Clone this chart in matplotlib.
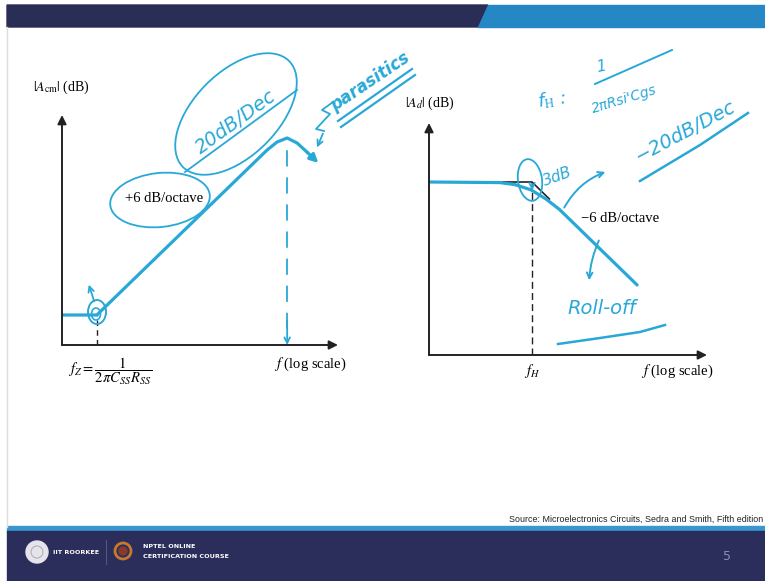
import matplotlib.pyplot as plt
from matplotlib.patches import Ellipse, Polygon, Rectangle, Circle

plt.rcParams['font.family'] = ['Liberation Serif', 'DejaVu Serif']
plt.rcParams['mathtext.fontset'] = 'stix'

W, H = 765, 581
ink = '#29a8d8'
hand = dict(family='DejaVu Sans', style='italic', color=ink)

# common-mode gain |Acm| in dB, frequency normalised to fz = 1
cm_freq = [0.39, 1.0, 100, 131, 172, 225, 295, 400]
cm_gain = [7.5, 7.5, 48.75, 50.75, 51.75, 50.5, 48.2, 45.5]
cm_asym_freq = [0.39, 1.0, 1.6]
cm_asym_gain = [7.5, 7.5, 11.6]
fz = 1.0
f_par = 172
cm_flim = (0.39, 680)
cm_glim = (0, 57.5)

# differential gain |Ad| in dB, frequency normalised to fH = 1
d_freq = [0.0616, 0.42, 0.63, 0.97, 1.46, 2.1, 17.2]
d_gain = [43.25, 43.1, 42.6, 41.3, 39.0, 36.4, 17.5]
d_asym_freq = [0.45, 1.0, 1.6]
d_asym_gain = [43.25, 43.25, 39.0]
fH = 1.0
d_flim = (0.0616, 114)
d_glim = (0, 58)


def rect(x0, y0, x1, y1):
    return [x0 / W, 1 - y1 / H, (x1 - x0) / W, (y1 - y0) / H]


fig = plt.figure(figsize=(W / 100, H / 100), dpi=100)

# slide background: banner, footer
bg = fig.add_axes([0, 0, 1, 1], zorder=0)
bg.set_xlim(0, W)
bg.set_ylim(H, 0)
bg.axis('off')
bg.add_patch(Polygon([(7, 5), (488, 5), (478, 27), (7, 27)], color='#2a2d55'))
bg.add_patch(Polygon([(488, 5), (765, 5), (765, 27), (478, 27)], color='#2587c3'))
bg.plot([7, 7], [27, 527], color='#dddddd', lw=1)
bg.add_patch(Rectangle((7, 526), 758, 6, color='#3a96cf'))
bg.add_patch(Rectangle((7, 531), 758, 50, color='#2b2e5b'))
bg.text(763, 519, 'Source: Microelectronics Circuits, Sedra and Smith, Fifth edition',
        family=['Liberation Sans', 'DejaVu Sans'], fontsize=6.4,
        color='#222222', va='center', ha='right')
bg.add_patch(Circle((37, 552), 11, color='#e4e4ea'))
bg.add_patch(Circle((37, 552), 6, fill=False, ec='#b0b0b8', lw=0.8))
bg.text(53, 552, 'IIT ROORKEE', family='DejaVu Sans', fontsize=4.6,
        weight='bold', color='white', va='center')
bg.plot([106, 106], [540, 564], color='#55587e', lw=0.8)
bg.add_patch(Circle((123, 551), 8, fill=False, ec='#c8782a', lw=2))
bg.add_patch(Circle((123, 551), 4, color='#8a3a2a'))
bg.text(143, 547, 'NPTEL ONLINE', family='DejaVu Sans', fontsize=4.6,
        weight='bold', color='white', va='center')
bg.text(143, 556, 'CERTIFICATION COURSE', family='DejaVu Sans', fontsize=4.6,
        weight='bold', color='white', va='center')
bg.text(727, 557, '5', family='DejaVu Sans', fontsize=9, color='#8a8fb0',
        ha='center', va='center')


def bode_axes(r, flim, glim):
    ax = fig.add_axes(r, zorder=1)
    ax.patch.set_alpha(0)
    ax.set_xscale('log')
    ax.set_xlim(flim)
    ax.set_ylim(glim)
    for s in ax.spines.values():
        s.set_visible(False)
    ax.set_xticks([])
    ax.set_yticks([])
    ax.minorticks_off()
    arrow = dict(arrowstyle='-|>', color='#222222', lw=1.4, mutation_scale=13,
                 shrinkA=0, shrinkB=0)
    ax.annotate('', xy=(1, 0), xytext=(0, 0), xycoords='axes fraction',
                arrowprops=arrow)
    ax.annotate('', xy=(0, 1), xytext=(0, 0), xycoords='axes fraction',
                arrowprops=arrow)
    return ax


# common-mode response
ax1 = bode_axes(rect(62, 115, 338, 345), cm_flim, cm_glim)
ax1.plot(cm_asym_freq, cm_asym_gain, color='#222222', lw=1.1)
ax1.plot([fz, fz], [0, cm_gain[1]], color='#222222', lw=1, ls=(0, (4, 3)))
ax1.plot(cm_freq[:-1], cm_gain[:-1], color=ink, lw=2.3, solid_capstyle='round')
ax1.annotate('', xy=(cm_freq[-1], cm_gain[-1]), xytext=(cm_freq[-2], cm_gain[-2]),
             arrowprops=dict(arrowstyle='-|>', color=ink, lw=2.3,
                             mutation_scale=12, shrinkA=0, shrinkB=0))
ax1.plot([f_par, f_par], [4, max(cm_gain)], color=ink, lw=1.3, ls=(0, (9, 6)))
ax1.annotate('', xy=(f_par, 0), xytext=(f_par, 6),
             arrowprops=dict(arrowstyle='->', color=ink, lw=1.3, shrinkA=0, shrinkB=0))

# differential response
ax2 = bode_axes(rect(429, 123, 707, 355), d_flim, d_glim)
ax2.plot([fH, fH], [0, d_asym_gain[1]], color='#222222', lw=1, ls=(0, (5, 3)))
ax2.plot(d_asym_freq, d_asym_gain, color='#222222', lw=1.2)
ax2.plot(d_freq, d_gain, color=ink, lw=2.3, solid_capstyle='round')

# printed labels
ov = fig.add_axes([0, 0, 1, 1], zorder=3)
ov.patch.set_alpha(0)
ov.set_xlim(0, W)
ov.set_ylim(H, 0)
ov.axis('off')
ov.text(61, 87, r'$|A_{\mathrm{cm}}|$ (dB)', fontsize=10, ha='center', va='center')
ov.text(310, 364, r'$f$ (log scale)', fontsize=10.5, ha='center', va='center')
ov.text(110, 371, r'$f_Z = \dfrac{1}{2\pi C_{SS}R_{SS}}$', fontsize=10.5,
        ha='center', va='center')
ov.text(164, 199, '+6 dB/octave', fontsize=10.5, ha='center', va='center')
ov.text(430, 103, r'$|A_d|$ (dB)', fontsize=10, ha='center', va='center')
ov.text(532, 371, r'$f_H$', fontsize=10.5, ha='center', va='center')
ov.text(677, 371, r'$f$ (log scale)', fontsize=10.5, ha='center', va='center')
ov.text(620, 219, '\u22126 dB/octave', fontsize=10.5, ha='center', va='center')

# handwritten notes on the common-mode plot
ov.add_patch(Ellipse((236, 114), 150, 84, angle=-45, fill=False, ec=ink, lw=1.3))
ov.plot([185, 297], [172, 90], color=ink, lw=1.3)
ov.text(236, 122, '20dB/Dec', fontsize=14, rotation=36, ha='center', va='center', **hand)
ov.add_patch(Ellipse((160, 200), 100, 54, angle=-6, fill=False, ec=ink, lw=1.3))
ov.add_patch(Ellipse((97, 312), 18, 24, fill=False, ec=ink, lw=1.4))
ov.add_patch(Ellipse((96, 314), 9, 12, fill=False, ec=ink, lw=1.2))
ov.annotate('', xy=(88, 282), xytext=(95, 304),
            arrowprops=dict(arrowstyle='->', color=ink, lw=1.3))
ov.text(370, 82, 'parasitics', fontsize=12, rotation=34, ha='center', va='center',
        weight='bold', **hand)
ov.plot([338, 412], [121, 69], color=ink, lw=1.6)
ov.plot([341, 415], [127, 75], color=ink, lw=1.6)
ov.plot([333, 322, 330, 316, 324], [102, 110, 114, 129, 131], color=ink, lw=1.3)
ov.annotate('', xy=(316, 150), xytext=(324, 131),
            arrowprops=dict(arrowstyle='->', color=ink, lw=1.3))

# handwritten notes on the differential plot
ov.text(552, 100, r'f$_{\rm H}$ :', fontsize=13, rotation=8, ha='center', va='center', **hand)
ov.text(601, 67, '1', fontsize=11, rotation=10, ha='center', va='center', **hand)
ov.plot([595, 672], [84, 50], color=ink, lw=1.4)
ov.text(624, 99, "2\u03c0Rsi'Cgs", fontsize=10, rotation=17, ha='center', va='center', **hand)
ov.text(686, 131, '\u221220dB/Dec', fontsize=14, rotation=28, ha='center', va='center', **hand)
ov.plot([640, 700, 748], [181, 145, 113], color=ink, lw=1.8)
ov.add_patch(Ellipse((530, 180), 24, 42, angle=-8, fill=False, ec=ink, lw=1.3))
ov.annotate('', xy=(532, 193), xytext=(532, 181),
            arrowprops=dict(arrowstyle='->', color=ink, lw=1.2))
ov.text(557, 177, '3dB', fontsize=11, rotation=20, ha='center', va='center', **hand)
ov.annotate('', xy=(608, 171), xytext=(563, 210),
            arrowprops=dict(arrowstyle='->', color=ink, lw=1.4,
                            connectionstyle='arc3,rad=-0.2'))
ov.annotate('', xy=(589, 283), xytext=(600, 238),
            arrowprops=dict(arrowstyle='->', color=ink, lw=1.4,
                            connectionstyle='arc3,rad=0.1'))
ov.text(602, 309, 'Roll-off', fontsize=14, ha='center', va='center', **hand)
ov.plot([558, 600, 640, 665], [344, 338, 332, 325], color=ink, lw=1.8)

fig.savefig('out.png', dpi=100)
